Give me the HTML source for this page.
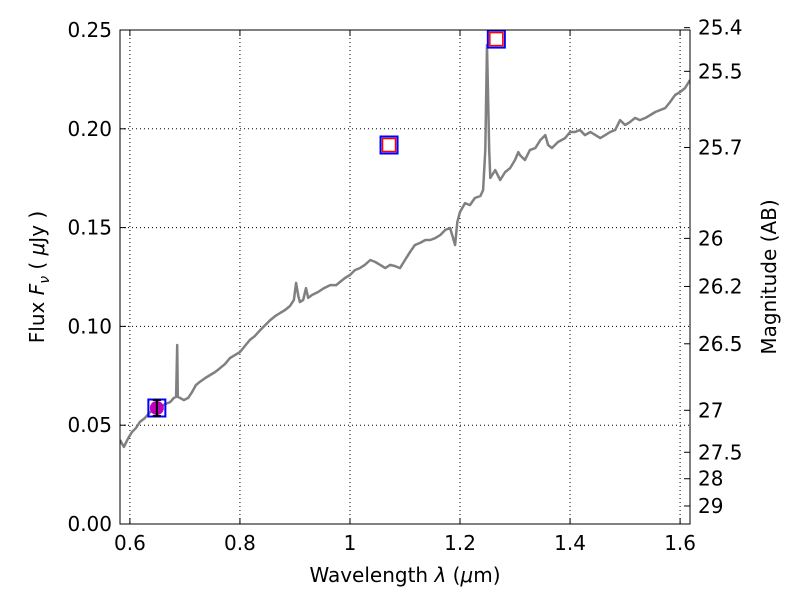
<!DOCTYPE html>
<html><head><meta charset="utf-8"><style>
body{margin:0;background:#fff}
svg text{font-family:"DejaVu Sans","Liberation Sans",sans-serif;fill:#000}
</style></head><body>
<svg id="chart" width="800" height="600" xmlns="http://www.w3.org/2000/svg">
<defs><clipPath id="clip"><rect x="120" y="30" width="570" height="494"/></clipPath></defs>
<g id="grid"></g>
<g id="series" clip-path="url(#clip)"></g>
<g id="points"></g>
<rect x="120" y="30" width="570" height="494" fill="none" stroke="#000" stroke-width="1"/>
<g id="axes"></g>
<text x="405" y="582" font-size="20" text-anchor="middle">Wavelength  <tspan font-style="italic">λ</tspan> (<tspan font-style="italic">μ</tspan>m)</text>
<text transform="translate(44,277) rotate(-90)" font-size="20" text-anchor="middle">Flux  <tspan font-style="italic">F</tspan><tspan font-style="italic" font-size="14" dy="5">ν</tspan><tspan dy="-5">  ( </tspan><tspan font-style="italic">μ</tspan>Jy )</text>
<text transform="translate(776,277) rotate(-90)" font-size="20" text-anchor="middle">Magnitude (AB)</text>
</svg>
<script>
const wavelength=[0.582,0.589,0.597,0.604,0.611,0.618,0.627,0.637,0.646,0.655,0.664,0.673,0.680,0.684,0.686,0.687,0.691,0.698,0.706,0.713,0.720,0.727,0.737,0.746,0.755,0.764,0.773,0.782,0.791,0.800,0.809,0.818,0.827,0.837,0.846,0.855,0.864,0.873,0.882,0.891,0.898,0.902,0.906,0.909,0.915,0.920,0.924,0.931,0.942,0.953,0.964,0.975,0.982,0.991,1.000,1.009,1.018,1.027,1.037,1.046,1.055,1.064,1.073,1.082,1.091,1.100,1.109,1.118,1.127,1.137,1.146,1.155,1.164,1.173,1.182,1.191,1.195,1.200,1.209,1.218,1.227,1.237,1.242,1.246,1.249,1.253,1.255,1.264,1.273,1.282,1.291,1.300,1.306,1.309,1.318,1.327,1.337,1.346,1.355,1.360,1.367,1.378,1.391,1.400,1.409,1.418,1.427,1.437,1.446,1.455,1.464,1.473,1.482,1.491,1.500,1.509,1.518,1.527,1.537,1.546,1.555,1.564,1.573,1.582,1.591,1.600,1.609,1.618];
const flux=[0.0425,0.0390,0.0435,0.0466,0.0486,0.0516,0.0536,0.0567,0.0577,0.0592,0.0607,0.0617,0.0638,0.0643,0.0906,0.0643,0.0638,0.0627,0.0638,0.0668,0.0703,0.0719,0.0739,0.0754,0.0769,0.0789,0.0810,0.0840,0.0855,0.0870,0.0901,0.0931,0.0951,0.0982,0.1007,0.1032,0.1052,0.1068,0.1083,0.1103,0.1134,0.1220,0.1154,0.1123,0.1134,0.1194,0.1144,0.1159,0.1174,0.1194,0.1209,0.1209,0.1225,0.1245,0.1260,0.1285,0.1295,0.1311,0.1336,0.1326,0.1311,0.1295,0.1311,0.1305,0.1295,0.1336,0.1376,0.1412,0.1422,0.1437,0.1437,0.1447,0.1462,0.1488,0.1498,0.1412,0.1528,0.1579,0.1624,0.1614,0.1650,0.1660,0.1690,0.1892,0.2424,0.1892,0.1751,0.1791,0.1741,0.1781,0.1801,0.1842,0.1882,0.1867,0.1842,0.1892,0.1903,0.1943,0.1968,0.1918,0.1903,0.1933,0.1953,0.1984,0.1984,0.1994,0.1968,0.1984,0.1968,0.1953,0.1968,0.1984,0.1994,0.2044,0.2019,0.2034,0.2055,0.2044,0.2055,0.2070,0.2085,0.2095,0.2105,0.2136,0.2171,0.2186,0.2206,0.2247];
const photWave=[0.649,1.071,1.266];
const photFlux=[0.0587,0.1918,0.2454];
const photDetected=[true,false,false];
const xTicks=[0.6,0.8,1.0,1.2,1.4,1.6];
const xTickLabels=["0.6","0.8","1","1.2","1.4","1.6"];
const yTicks=[0,0.05,0.10,0.15,0.20,0.25];
const yTickLabels=["0.00","0.05","0.10","0.15","0.20","0.25"];
const magTicks=[25.4,25.5,25.7,26,26.2,26.5,27,27.5,28,29];
const magTickLabels=["25.4","25.5","25.7","26","26.2","26.5","27","27.5","28","29"];

const X0=120,X1=690,Y0=524,Y1=30,XMIN=0.582,XMAX=1.618,YMIN=0,YMAX=0.25;
const xs=v=>X0+(v-XMIN)/(XMAX-XMIN)*(X1-X0);
const ys=v=>Y0-(v-YMIN)/(YMAX-YMIN)*(Y0-Y1);
const NS="http://www.w3.org/2000/svg";
function mk(tag,parent,attrs){const e=document.createElementNS(NS,tag);for(const k in attrs)e.setAttribute(k,attrs[k]);parent.appendChild(e);return e;}
const grid=document.getElementById('grid'),axes=document.getElementById('axes');
xTicks.forEach((t,i)=>{const x=xs(t);
 const g=mk('line',grid,{x1:x,x2:x,y1:Y1,y2:Y0,stroke:'#000','stroke-dasharray':'1,3','stroke-width':1});
 
 
 mk('line',axes,{x1:x,x2:x,y1:Y0,y2:Y0-6,stroke:'#000'});
 mk('line',axes,{x1:x,x2:x,y1:Y1,y2:Y1+6,stroke:'#000'});
 const t2=mk('text',axes,{x:x,y:Y0+26,'font-size':20,'text-anchor':'middle'});t2.textContent=xTickLabels[i];
 
 
});
yTicks.forEach((t,i)=>{const y=ys(t);
 const g=mk('line',grid,{x1:X0,x2:X1,y1:y,y2:y,stroke:'#000','stroke-dasharray':'1,3','stroke-width':1});
 
 
 mk('line',axes,{x1:X0,x2:X0+6,y1:y,y2:y,stroke:'#000'});
 const t2=mk('text',axes,{x:X0-8,y:y+7,'font-size':20,'text-anchor':'end'});t2.textContent=yTickLabels[i];
 
 
});
magTicks.forEach((m,i)=>{const f=Math.pow(10,(23.9-m)/2.5);const y=ys(f);
 mk('line',axes,{x1:X1,x2:X1-6,y1:y,y2:y,stroke:'#000'});
 const t2=mk('text',axes,{x:X1+8,y:y+7,'font-size':20});t2.textContent=magTickLabels[i];
 
 
});
const series=document.getElementById('series');
const pts=wavelength.map((w,i)=>xs(w).toFixed(1)+','+ys(flux[i]).toFixed(1)).join(' ');
const pl=mk('polyline',series,{points:pts,fill:'none',stroke:'#808080','stroke-width':2.5,'stroke-linejoin':'round'});


const pg=document.getElementById('points');
photWave.forEach((w,i)=>{const x=xs(w),y=ys(photFlux[i]);
 const b=mk('rect',pg,{x:x-8.5,y:y-8.5,width:17,height:17,fill:'none',stroke:'#0000ff','stroke-width':2});
 
 
 if(photDetected[i]){
  const c=mk('circle',pg,{cx:x,cy:y,r:7,fill:'#bf00bf'});
  
  
  mk('line',pg,{x1:x,x2:x,y1:y-8,y2:y+8,stroke:'#000','stroke-width':2});
  mk('line',pg,{x1:x-4,x2:x+4,y1:y-8,y2:y-8,stroke:'#000','stroke-width':2});
  mk('line',pg,{x1:x-4,x2:x+4,y1:y+8,y2:y+8,stroke:'#000','stroke-width':2});
 } else {
  const r=mk('rect',pg,{x:x-6.5,y:y-6.5,width:13,height:13,fill:'none',stroke:'#ff0000','stroke-width':1.5});
  
  
 }
});
</script>
</body></html>
